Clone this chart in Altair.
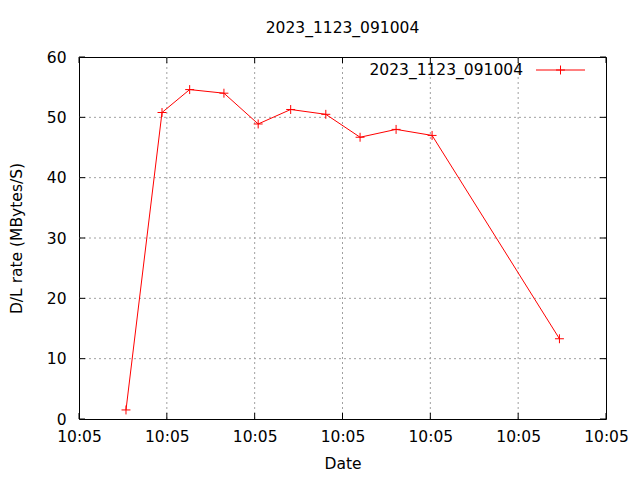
import altair as alt
import pandas as pd

# seconds after 10:05:00 (axis shows only HH:MM)
secs = [5.35, 9.45, 12.6, 16.5, 20.4, 24.1, 28.1, 32.0, 36.1, 40.2, 54.7]
rate = [1.5, 50.8, 54.6, 54.0, 48.9, 51.3, 50.5, 46.7, 48.0, 47.0, 13.3]
x_ticks = [0, 10, 20, 30, 40, 50, 60]
y_ticks = [0, 10, 20, 30, 40, 50, 60]
title = "2023_1123_091004"
series = "2023_1123_091004"

W, H = 527, 362
FONT = "DejaVu Sans"
FS = 15.5
PLUS = "M-1,0H1M0,-1V1"

df = pd.DataFrame({"t": secs, "rate": rate})
xt = pd.DataFrame({"t": x_ticks})
yt = pd.DataFrame({"v": y_ticks})

xs = alt.Scale(domain=[0, 60], nice=False, zero=False)
ys = alt.Scale(domain=[0, 60], nice=False)

grid_style = dict(color="#a0a0a0", strokeDash=[2, 3], strokeWidth=1)

xgrid = alt.Chart(xt[(xt.t > 0) & (xt.t < 60)]).mark_rule(**grid_style).encode(
    x=alt.X("t:Q", scale=xs), y=alt.value(0), y2=alt.value(H))
ygrid = alt.Chart(yt[(yt.v > 0) & (yt.v < 60)]).mark_rule(**grid_style).encode(
    y=alt.Y("v:Q", scale=ys), x=alt.value(0), x2=alt.value(W))

xtick_b = alt.Chart(xt).mark_rule(color="black").encode(
    x=alt.X("t:Q", scale=xs), y=alt.value(H), y2=alt.value(H - 6))
xtick_t = alt.Chart(xt).mark_rule(color="black").encode(
    x=alt.X("t:Q", scale=xs), y=alt.value(0), y2=alt.value(6))
ytick_l = alt.Chart(yt).mark_rule(color="black").encode(
    y=alt.Y("v:Q", scale=ys), x=alt.value(0), x2=alt.value(6))
ytick_r = alt.Chart(yt).mark_rule(color="black").encode(
    y=alt.Y("v:Q", scale=ys), x=alt.value(W), x2=alt.value(W - 6))

line = alt.Chart(df).mark_line(color="red", strokeWidth=1).encode(
    x=alt.X("t:Q", scale=xs,
            axis=alt.Axis(values=x_ticks, labelExpr="'10:05'", title="Date",
                          grid=False, ticks=False, domain=False,
                          labelFlush=False, labelOverlap=False, labelBound=False,
                          labelPadding=10, titlePadding=12,
                          labelFont=FONT, labelFontSize=FS, labelColor="black",
                          titleFont=FONT, titleFontSize=FS, titleColor="black",
                          titleFontWeight="normal")),
    y=alt.Y("rate:Q", scale=ys,
            axis=alt.Axis(values=y_ticks, title="D/L rate (MBytes/S)",
                          grid=False, ticks=False, domain=False,
                          labelFlush=False, labelOverlap=False,
                          labelPadding=13, titlePadding=22,
                          labelFont=FONT, labelFontSize=FS, labelColor="black",
                          titleFont=FONT, titleFontSize=FS, titleColor="black",
                          titleFontWeight="normal")),
)
pts = alt.Chart(df).mark_point(shape=PLUS, color="red", filled=False,
                               size=80, strokeWidth=1, opacity=1).encode(
    x=alt.X("t:Q", scale=xs), y=alt.Y("rate:Q", scale=ys))

leg = pd.DataFrame({"name": [series]})
leg_text = alt.Chart(leg).mark_text(align="right", baseline="middle",
                                    font=FONT, fontSize=FS, color="black").encode(
    text="name:N", x=alt.value(444), y=alt.value(13))
leg_line = alt.Chart(leg).mark_rule(color="red", strokeWidth=1).encode(
    x=alt.value(457), x2=alt.value(506), y=alt.value(13))
leg_pt = alt.Chart(leg).mark_point(shape=PLUS, color="red", filled=False,
                                   size=80, strokeWidth=1, opacity=1).encode(
    x=alt.value(481.5), y=alt.value(13))

chart = alt.layer(
    xgrid, ygrid, xtick_b, xtick_t, ytick_l, ytick_r, line, pts,
    leg_line, leg_pt, leg_text
).properties(
    width=W, height=H,
    title=alt.TitleParams(title, font=FONT, fontSize=FS, fontWeight="normal",
                          color="black", anchor="middle", offset=14),
    autosize=alt.AutoSizeParams(type="none"),
    padding={"left": 71, "top": 49, "right": 26, "bottom": 53},
).configure(
    background="white"
).configure_view(
    stroke="black", strokeWidth=1
)

chart.save("out.html", embed_options={"renderer": "svg", "actions": False})
